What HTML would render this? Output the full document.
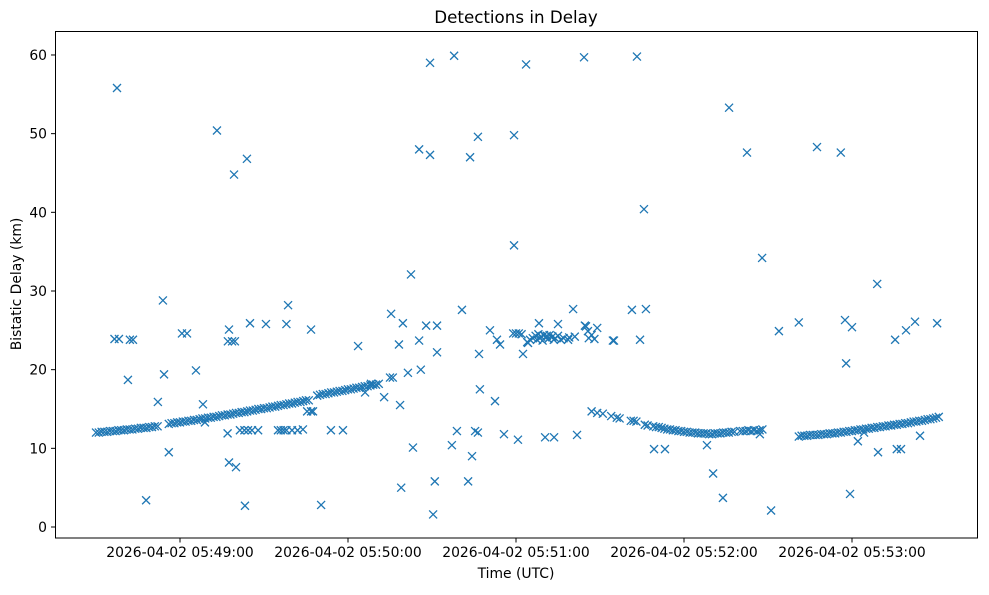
<!DOCTYPE html>
<html><head><meta charset="utf-8"><style>
body{margin:0;background:#fff;}
svg text{font-family:"DejaVu Sans","Liberation Sans",sans-serif;fill:#000;}
</style></head><body>
<svg id="chart" width="989" height="590" xmlns="http://www.w3.org/2000/svg">
<rect width="989" height="590" fill="#fff"/>
<text x="516" y="23" font-size="16.7" text-anchor="middle">Detections in Delay</text>
<text x="516" y="578" font-size="13.9" text-anchor="middle">Time (UTC)</text>
<text transform="translate(21,284) rotate(-90)" font-size="13.9" text-anchor="middle">Bistatic Delay (km)</text>
<g id="marks"></g>
<g id="axes"></g>
<rect x="55.5" y="31.5" width="922" height="506.5" fill="none" stroke="#000" stroke-width="1"/>
</svg>
<script>
// seconds since 05:48:00 UTC
const trackTimes = [30,31,32,33,34,35,36,37,38,39,40,41,42,43,44,45,46,47,48,49,50,51,52,
56,57,58,59,60,61,62,63,64,65,66,67,68,69,70,71,72,73,74,75,76,77,78,79,80,81,82,83,84,85,86,87,88,89,90,91,92,93,94,95,96,97,98,99,100,101,102,103,104,105,106,
109,110,111,112,113,114,115,116,117,118,119,120,121,122,123,124,125,126,127,128,129,130,131,
179,180,181,182,184,185,186,187,187.5,188,188.5,189,189.5,190,190.5,191,191.5,192,193,193.5,194,195,196,197,199,201,205,206,207,208,209,
207,209,211,214,216,217,221,222,223,226,227,229,230,231,232,233,234,235,236,237,238,239,240,241,242,243,244,245,246,247,248,249,250,251,252,253,254,255,256,257,258,260,261,262,263,264,265,266,267,268,
281,282,283,284,285,286,287,288,289,290,291,292,293,294,295,296,297,298,299,300,301,302,303,304,305,306,307,308,309,310,311,312,313,314,315,316,317,318,319,320,321,322,323,324,325,326,327,328,329,330,331];
const trackDelays = [12.0,12.0,12.1,12.1,12.1,12.2,12.2,12.2,12.3,12.3,12.3,12.4,12.4,12.4,12.5,12.5,12.6,12.6,12.6,12.7,12.7,12.8,12.8,
13.1,13.2,13.2,13.3,13.3,13.4,13.4,13.5,13.5,13.6,13.6,13.7,13.8,13.8,13.9,13.9,14.0,14.0,14.1,14.2,14.2,14.3,14.3,14.4,14.5,14.5,14.6,14.6,14.7,14.8,14.8,14.9,15.0,15.0,15.1,15.1,15.2,15.3,15.3,15.4,15.5,15.5,15.6,15.7,15.7,15.8,15.9,15.9,16.0,16.1,16.1,
16.7,16.8,16.9,16.9,17.0,17.1,17.1,17.2,17.3,17.3,17.4,17.5,17.5,17.6,17.7,17.7,17.8,17.9,17.9,18.0,18.1,18.1,18.2,
24.6,24.6,24.6,24.5,23.5,23.8,24.0,24.3,23.8,24.5,24.0,24.2,23.7,24.4,24.1,24.3,23.9,24.4,24.2,23.8,24.0,24.3,23.8,24.0,24.1,24.2,25.5,24.0,24.4,23.9,25.3,
14.7,14.5,14.4,14.1,13.9,13.8,13.5,13.5,13.4,13.0,12.9,12.8,12.7,12.7,12.6,12.5,12.4,12.4,12.3,12.3,12.2,12.2,12.1,12.1,12.0,12.0,12.0,11.9,11.9,11.9,11.9,11.8,11.8,11.9,11.9,11.9,12.0,12.0,12.0,12.1,12.1,12.2,12.2,12.2,12.3,12.2,12.3,12.2,12.3,12.4,
11.5,11.6,11.6,11.6,11.7,11.7,11.7,11.7,11.8,11.8,11.8,11.9,11.9,11.9,12.0,12.0,12.1,12.1,12.2,12.2,12.3,12.3,12.4,12.4,12.5,12.5,12.6,12.6,12.7,12.7,12.8,12.8,12.9,12.9,13.0,13.0,13.1,13.1,13.2,13.2,13.3,13.4,13.4,13.5,13.5,13.6,13.7,13.7,13.8,13.9,14.0];
const outlierTimes = [37.5,36.6,38.2,41.4,42.1,43.2,47.9,52.1,53.9,54.3,56,60.7,62.5,65.7,68.2,68.9,73.2,77,77.5,77.1,78.6,79.6,77.5,79.3,80,81.4,83,84.3,85.7,87.9,83.2,83.9,85,90.7,98,98.6,95,96,97,98,100,102,103.9,105.4,106.8,107.5,106.8,110.4,113.9,118.2,123.6,126.1,128.2,132.9,135,136,135.4,138.2,138.6,139,139.6,141.4,142.5,143.2,145.4,145.4,146,147.9,149.3,149.3,150.4,151,151.8,151.8,157.1,157.9,158.9,160.7,162.9,163.6,164.3,165.4,166.4,166.4,166.8,167.1,170.7,172.5,173.2,174.3,175.7,179.3,179.3,180.7,182.5,183.6,184.3,188.2,190.4,193.6,195,198.6,200.4,201.8,204.3,204.6,205.7,214.6,215,221.4,223.2,224.3,225.7,226.4,229.3,233.2,248.2,250.4,253.9,256.1,262.5,267.1,267.9,271.1,273.9,281,287.5,296,297.5,297.9,299.3,300,302.1,304.3,309,309.3,315.4,316,317.5,319.3,322.5,324.3,330.4];
const outlierDelays = [55.8,23.9,23.9,18.7,23.8,23.8,3.4,15.9,28.8,19.4,9.5,24.6,24.6,19.9,15.6,13.3,50.4,11.9,25.1,23.6,23.6,23.6,8.2,44.8,7.6,12.3,12.3,12.3,12.3,12.3,2.7,46.8,25.9,25.8,25.8,28.2,12.3,12.3,12.3,12.3,12.3,12.3,12.4,14.7,14.7,14.7,25.1,2.8,12.3,12.3,23.0,17.1,18.2,16.5,19.0,19.0,27.1,23.2,15.5,5.0,25.9,19.6,32.1,10.1,48.0,23.7,20.0,25.6,59.0,47.3,1.6,5.8,25.6,22.2,10.4,59.9,12.2,27.6,5.8,47.0,9.0,12.2,12.0,49.6,22.0,17.5,25.0,16.0,23.8,23.2,11.8,49.8,35.8,11.1,22.0,58.8,23.4,25.9,11.4,11.4,25.8,23.8,27.7,11.7,59.7,25.6,24.9,23.7,23.7,27.6,59.8,23.8,40.4,27.7,9.9,9.9,10.4,6.8,3.7,53.3,47.6,11.8,34.2,2.1,24.9,26.0,48.3,47.6,26.3,20.8,4.2,25.4,10.9,12.0,30.9,9.5,23.8,9.9,9.9,25.0,26.1,11.6,25.9];
const yTickValues = [0,10,20,30,40,50,60];
const xTickSeconds = [60,120,180,240,300];
const xTickLabels = ["2026-04-02 05:49:00","2026-04-02 05:50:00","2026-04-02 05:51:00","2026-04-02 05:52:00","2026-04-02 05:53:00"];

const NS = "http://www.w3.org/2000/svg";
function xScale(s){ return 12 + 2.8 * s; }
function yScale(v){ return 527 - 7.867 * v; }

const marks = document.getElementById('marks');
function drawX(s, v, name){
  const cx = xScale(s), cy = yScale(v), r = 4;
  const p = document.createElementNS(NS, 'path');
  p.setAttribute('d', `M${cx-r},${cy-r}L${cx+r},${cy+r}M${cx-r},${cy+r}L${cx+r},${cy-r}`);
  p.setAttribute('stroke', '#1f77b4');
  p.setAttribute('stroke-width', '1.3');
  p.setAttribute('fill', 'none');
  
  
  marks.appendChild(p);
}
trackTimes.forEach((s, i) => drawX(s, trackDelays[i], 'detection-point'));
outlierTimes.forEach((s, i) => drawX(s, outlierDelays[i], 'detection-point'));

const axes = document.getElementById('axes');
yTickValues.forEach(v => {
  const y = yScale(v);
  const t = document.createElementNS(NS, 'line');
  t.setAttribute('x1', 51); t.setAttribute('x2', 55.5);
  t.setAttribute('y1', y); t.setAttribute('y2', y);
  t.setAttribute('stroke', '#000');
  
  
  axes.appendChild(t);
  const l = document.createElementNS(NS, 'text');
  l.setAttribute('x', 47); l.setAttribute('y', y + 5);
  l.setAttribute('font-size', '13.9'); l.setAttribute('text-anchor', 'end');
  l.textContent = String(v);
  
  
  axes.appendChild(l);
});
xTickSeconds.forEach((s, i) => {
  const x = xScale(s);
  const t = document.createElementNS(NS, 'line');
  t.setAttribute('x1', x); t.setAttribute('x2', x);
  t.setAttribute('y1', 538); t.setAttribute('y2', 542.5);
  t.setAttribute('stroke', '#000');
  
  
  axes.appendChild(t);
  const l = document.createElementNS(NS, 'text');
  l.setAttribute('x', x); l.setAttribute('y', 557);
  l.setAttribute('font-size', '13.9'); l.setAttribute('text-anchor', 'middle');
  l.textContent = xTickLabels[i];
  
  
  axes.appendChild(l);
});
</script>
</body></html>
